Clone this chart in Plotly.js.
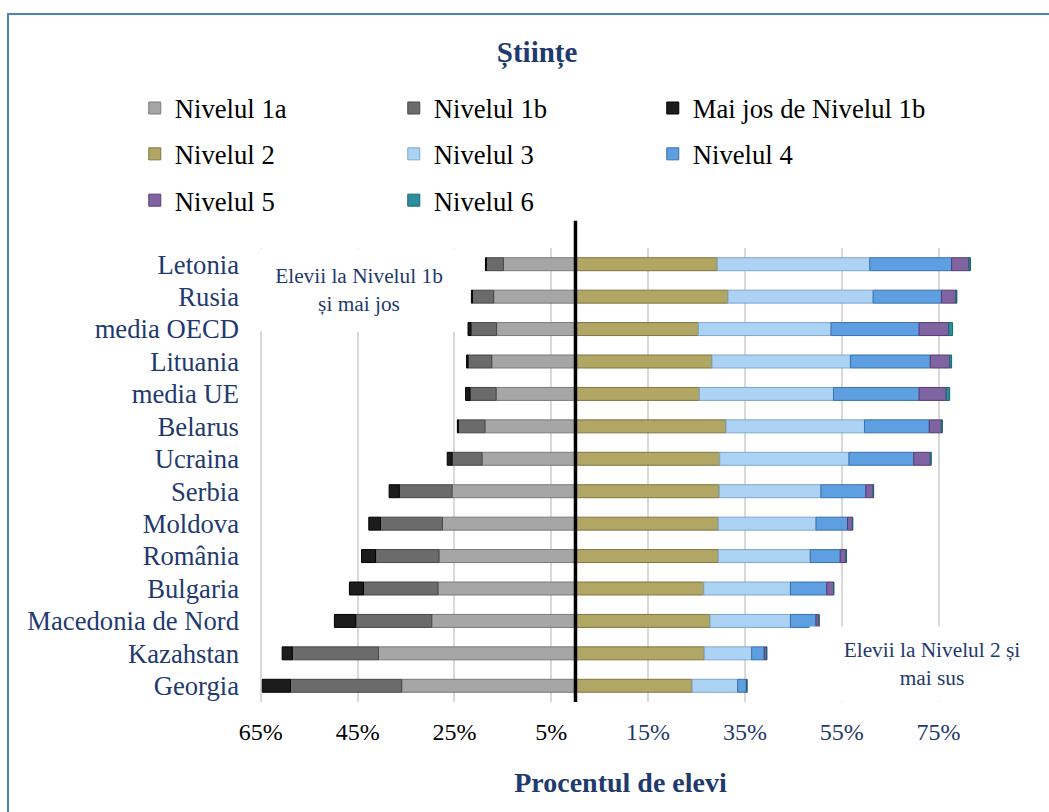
<!DOCTYPE html>
<html>
<head>
<meta charset="utf-8">
<script src="https://cdn.plot.ly/plotly-3.0.1.min.js"></script>
<style>
  html, body { margin: 0; padding: 0; background: #ffffff; }
  #chart { width: 1049px; height: 812px; position: relative; }
  #frame {
    position: absolute; left: 7px; top: 13px; width: 1100px; height: 900px;
    border-left: 2px solid #4f81bd; border-top: 2px solid #4f81bd;
    pointer-events: none; box-sizing: border-box;
  }
</style>
</head>
<body>
<div id="chart"></div>
<div id="frame"></div>
<script>
// Science proficiency levels (percent of students), top row first
const countries = ['Letonia', 'Rusia', 'media OECD', 'Lituania', 'media UE', 'Belarus', 'Ucraina',
  'Serbia', 'Moldova', 'România', 'Bulgaria', 'Macedonia de Nord', 'Kazahstan', 'Georgia'];

// below level 2 (drawn to the left of zero)
const nivelul1a = [14.9, 16.9, 16.3, 17.3, 16.4, 18.7, 19.3, 25.5, 27.5, 28.2, 28.4, 29.7, 40.7, 35.9];
const nivelul1b = [3.5, 4.4, 5.3, 4.9, 5.4, 5.5, 6.2, 10.9, 12.8, 13.1, 15.4, 15.7, 17.8, 23.0];
const subNivelul1b = [0.2, 0.2, 0.6, 0.3, 0.9, 0.2, 1.0, 2.1, 2.4, 2.9, 2.9, 4.4, 2.1, 5.8];

// level 2 and above (drawn to the right of zero)
const nivelul2 = [29.3, 31.5, 25.4, 28.2, 25.6, 31.1, 29.8, 29.7, 29.5, 29.5, 26.5, 27.8, 26.6, 24.1];
const nivelul3 = [31.5, 30.0, 27.4, 28.6, 27.7, 28.6, 26.7, 21.0, 20.2, 19.0, 17.9, 16.6, 9.8, 9.4];
const nivelul4 = [16.9, 14.1, 18.2, 16.5, 17.7, 13.4, 13.4, 9.3, 6.5, 6.2, 7.5, 5.3, 2.6, 1.8];
const nivelul5 = [3.6, 3.0, 6.1, 4.0, 5.6, 2.5, 3.4, 1.5, 1.0, 1.2, 1.4, 0.6, 0.5, 0.1];
const nivelul6 = [0.3, 0.2, 0.8, 0.4, 0.7, 0.2, 0.2, 0.1, 0.1, 0.1, 0.1, 0.0, 0.0, 0.0];

const tickVals = [-65, -45, -25, -5, 15, 35, 55, 75];
const tickLabels = ['65%', '45%', '25%', '5%', '15%', '35%', '55%', '75%'];

const NAVY = '#1f3a6e';
const SERIF = '"Liberation Serif", "Times New Roman", serif';

const series = [
  { name: 'Nivelul 1a', values: nivelul1a, side: -1, fill: '#a6a6a6', edge: '#7a7a7a', legend: 'legend' },
  { name: 'Nivelul 1b', values: nivelul1b, side: -1, fill: '#6b6b6b', edge: '#474747', legend: 'legend' },
  { name: 'Mai jos de Nivelul 1b', values: subNivelul1b, side: -1, fill: '#1c1c1c', edge: '#000000', legend: 'legend', lastInRow: true },
  { name: 'Nivelul 2', values: nivelul2, side: 1, fill: '#b1a664', edge: '#807543', legend: 'legend2' },
  { name: 'Nivelul 3', values: nivelul3, side: 1, fill: '#acd3f3', edge: '#7ea7cf', legend: 'legend2' },
  { name: 'Nivelul 4', values: nivelul4, side: 1, fill: '#5d9fe0', edge: '#3b70ab', legend: 'legend2', lastInRow: true },
  { name: 'Nivelul 5', values: nivelul5, side: 1, fill: '#8063a1', edge: '#553c74', legend: 'legend3' },
  { name: 'Nivelul 6', values: nivelul6, side: 1, fill: '#2f8e9e', edge: '#1c6470', legend: 'legend3', lastInRow: true }
];

const traces = series.map(s => {
  const t = {
    type: 'bar',
    orientation: 'h',
    name: s.name,
    y: countries,
    x: s.values.map(v => s.side * v),
    customdata: s.values,
    hovertemplate: '%{y}<br>' + s.name + ': %{customdata}%<extra></extra>',
    marker: { color: s.fill, line: { color: s.edge, width: 1 } },
    legend: s.legend
  };
  // the last entry of a legend row gets room for its full label
  if (s.lastInRow) t.legendwidth = 300;
  return t;
});

// plot area spans x = 256.2 .. 985 px, so paper x for the legend is (135 - 256.2) / 728.8
const legendBase = {
  orientation: 'h',
  xref: 'paper', yref: 'paper',
  x: -0.1663, xanchor: 'left', yanchor: 'middle',
  entrywidth: 214, entrywidthmode: 'pixels',
  font: { family: SERIF, size: 26.67, color: '#000000' },
  bgcolor: 'rgba(0,0,0,0)',
  itemclick: false, itemdoubleclick: false,
  traceorder: 'normal'
};

const layout = {
  width: 1049,
  height: 812,
  paper_bgcolor: '#ffffff',
  plot_bgcolor: '#ffffff',
  margin: { l: 256.2, r: 64, t: 248, b: 110, autoexpand: false },
  barmode: 'relative',
  bargap: 0.6,
  title: {
    text: 'Științe',
    xref: 'container', x: 0.512, xanchor: 'center',
    yref: 'container', y: 1 - 52 / 812, yanchor: 'middle',
    font: { family: SERIF, size: 29, color: NAVY, weight: 'bold' }
  },
  legend: Object.assign({}, legendBase, { y: 1.308 }),
  legend2: Object.assign({}, legendBase, { y: 1.207 }),
  legend3: Object.assign({}, legendBase, { y: 1.105 }),
  xaxis: {
    range: [-66, 84.6],
    tickmode: 'array',
    tickvals: tickVals,
    ticktext: tickLabels.map((t, i) => tickVals[i] < 0 ? '<span style="color:#000000">' + t + '</span>' : t),
    tickfont: { family: SERIF, size: 24, color: NAVY },
    ticks: '',
    ticklabelstandoff: 13,
    showgrid: true,
    gridcolor: '#d9d9d9',
    gridwidth: 2,
    zeroline: false,
    showline: false,
    fixedrange: true,
    title: {
      text: 'Procentul de elevi',
      standoff: 28,
      font: { family: SERIF, size: 28, color: NAVY, weight: 'bold' }
    }
  },
  yaxis: {
    type: 'category',
    categoryorder: 'array',
    categoryarray: countries,
    autorange: 'reversed',
    tickfont: { family: SERIF, size: 26.67, color: NAVY },
    ticks: '',
    ticklabelstandoff: 16,
    showgrid: false,
    zeroline: false,
    showline: false,
    fixedrange: true
  },
  shapes: [
    {
      type: 'line', layer: 'above',
      xref: 'x', x0: 0, x1: 0,
      yref: 'paper', y0: 0.0, y1: 1.06,
      line: { color: '#000000', width: 3.5 }
    }
  ],
  annotations: [
    {
      text: 'Elevii la Nivelul 1b<br>și mai jos',
      xref: 'x', x: -44.75, yref: 'paper', y: 0.907,
      xanchor: 'center', yanchor: 'middle',
      showarrow: false,
      width: 204, height: 78, borderpad: 2,
      bgcolor: '#ffffff',
      align: 'center',
      font: { family: SERIF, size: 21.33, color: NAVY }
    },
    {
      text: 'Elevii la Nivelul 2 și<br>mai sus',
      xref: 'x', x: 73.7, yref: 'paper', y: 0.084,
      xanchor: 'center', yanchor: 'middle',
      showarrow: false,
      width: 240, height: 70, borderpad: 2,
      bgcolor: '#ffffff',
      align: 'center',
      font: { family: SERIF, size: 21.33, color: NAVY }
    }
  ]
};

Plotly.newPlot('chart', traces, layout, { displayModeBar: false });
</script>
</body>
</html>
